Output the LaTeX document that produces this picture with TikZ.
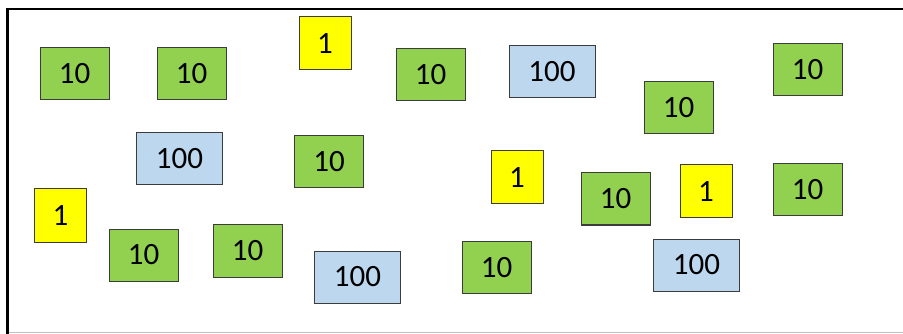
\documentclass[tikz,border=0pt]{standalone}
\usepackage{fontspec}
\setmainfont{Carlito}
\usetikzlibrary{positioning}
\definecolor{tengreen}{RGB}{146,208,80}
\definecolor{hundredblue}{RGB}{189,215,238}
\definecolor{oneyellow}{RGB}{255,255,0}
\definecolor{boxline}{RGB}{60,60,60}

\begin{document}
\begin{tikzpicture}[x=1pt,y=-1pt]
\tikzstyle{every node}=[font=\fontsize{31}{35}\selectfont]
\tikzstyle{coin}=[draw=boxline, line width=1pt, inner sep=0pt, minimum height=52pt]
\tikzstyle{ten}=[coin, fill=tengreen, minimum width=69pt]
\tikzstyle{hundred}=[coin, fill=hundredblue, minimum width=86pt]
\tikzstyle{one}=[coin, fill=oneyellow, minimum width=52pt, minimum height=53pt]
\useasboundingbox (0,0) rectangle (903,334);
% frame
\coordinate (frametl) at (7.5,9);
\coordinate (frametr) at (903,9);
\coordinate (framebl) at (7.5,334);
\coordinate (framebot) at (7.5,332.5);
\coordinate (framebr) at (903,332.5);
\draw [lightgray, line width=1.5pt] (framebot) -- (framebr);
\draw [black, line width=2.5pt] (framebl) -- (frametl) -- (frametr);
% tens
\node[ten] (ta) at (74.5,74) {10};
\node[ten] (tb) at (191.5,74) {10};
\node[ten] (tc) at (430.5,75) {10};
\node[ten] (td) at (678.5,107.5) {10};
\node[ten] (te) at (807.5,70) {10};
\node[ten] (tf) at (329,162) {10};
\node[ten] (tg) at (615.5,199) {10};
\node[ten] (th) at (807.5,190) {10};
\node[ten] (ti) at (143.5,255) {10};
\node[ten] (tj) at (247.5,251) {10};
\node[ten] (tk) at (496.5,267.5) {10};
% hundreds
\node[hundred] (ha) at (552,72) {100};
\node[hundred] (hb) at (179.5,159) {100};
\node[hundred] (hc) at (357.5,277) {100};
\node[hundred] (hd) at (696.5,265) {100};
% ones
\node[one] (oa) at (325,43.5) {1};
\node[one] (ob) at (60.5,215.5) {1};
\node[one] (oc) at (517,177.5) {1};
\node[one] (od) at (706,191.5) {1};
\end{tikzpicture}
\end{document}
